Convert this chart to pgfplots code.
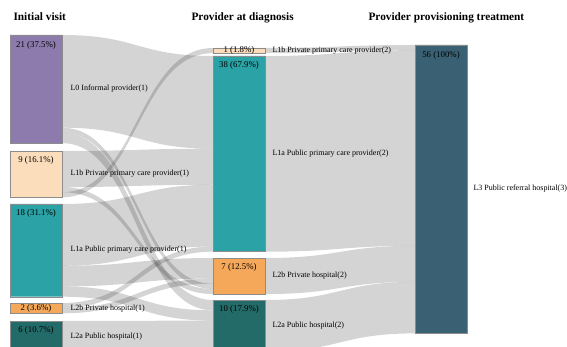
\documentclass[border=0pt]{standalone}
\usepackage{fontspec}
\setmainfont{Liberation Serif}
\usepackage{pgfplots}
\pgfplotsset{compat=1.18}
\definecolor{cPurple}{RGB}{142,123,174}
\definecolor{cPeach}{RGB}{252,221,187}
\definecolor{cTeal}{RGB}{43,163,166}
\definecolor{cOrange}{RGB}{246,168,90}
\definecolor{cDark}{RGB}{35,107,104}
\definecolor{cSlate}{RGB}{58,97,115}
\definecolor{cRib}{RGB}{40,40,40}
\definecolor{cTxt}{RGB}{30,30,30}
\tikzset{ribbon/.style={fill=cRib, fill opacity=0.2, draw=none}}
% ribbon: x0, x1, source top, target top, value (patients)
\newcommand{\ribbon}[5]{%
  \fill[ribbon] (axis cs:#1,#3) .. controls (axis cs:{(#1+#2)/2},#3) and (axis cs:{(#1+#2)/2},#4) .. (axis cs:#2,#4)
   -- (axis cs:#2,{#4+#5*5.15}) .. controls (axis cs:{(#1+#2)/2},{#4+#5*5.15}) and (axis cs:{(#1+#2)/2},{#3+#5*5.15}) .. (axis cs:#1,{#3+#5*5.15}) -- cycle;}
% node box: x0, x1, top, bottom, colour
\newcommand{\snode}[5]{%
  \addplot[fill=#5, draw=black!45, line width=0.4pt, mark=none] coordinates {(#1,#3) (#2,#3) (#2,#4) (#1,#4) (#1,#3)};}
\begin{document}
\begin{tikzpicture}
\begin{axis}[
  scale only axis, width=567pt, height=347pt,
  xmin=0, xmax=567, ymin=0, ymax=347, y dir=reverse,
  hide axis, clip=true,
  every node/.style={text=cTxt, inner sep=0pt},
]
% flows: initial visit -> provider at diagnosis
\ribbon{62}{213}{35}{56}{18}
\ribbon{62}{213}{127.7}{283.75}{1}
\ribbon{62}{213}{132.85}{300}{2}
\ribbon{62}{213}{151}{148.7}{7}
\ribbon{62}{213}{187.05}{288.9}{1}
\ribbon{62}{213}{192.2}{48}{1}
\ribbon{62}{213}{204}{184.75}{12}
\ribbon{62}{213}{265.8}{258}{4}
\ribbon{62}{213}{286.4}{310.3}{2}
\ribbon{62}{213}{303}{246.55}{1}
\ribbon{62}{213}{308.15}{278.6}{1}
\ribbon{62}{213}{321}{320.6}{6}
% flows: provider at diagnosis -> treatment
\ribbon{265}{415}{48}{45}{1}
\ribbon{265}{415}{56}{50.15}{38}
\ribbon{265}{415}{258}{245.85}{7}
\ribbon{265}{415}{300}{281.9}{10}
% nodes
\snode{10}{62}{35}{143.15}{cPurple}
\snode{10}{62}{151}{197.35}{cPeach}
\snode{10}{62}{204}{296.7}{cTeal}
\snode{10}{62}{303}{313.3}{cOrange}
\snode{10}{62}{321}{351.9}{cDark}
\snode{213}{265}{48}{53.15}{cPeach}
\snode{213}{265}{56}{251.7}{cTeal}
\snode{213}{265}{258}{294.05}{cOrange}
\snode{213}{265}{300}{351.5}{cDark}
\snode{415}{467}{45}{333.4}{cSlate}
% titles
\node[anchor=base west, font=\bfseries\fontsize{11.3}{13}\selectfont] at (axis cs:10,21) {Initial visit};
\node[anchor=base west, font=\bfseries\fontsize{11.3}{13}\selectfont] at (axis cs:188,21) {Provider at diagnosis};
\node[anchor=base west, font=\bfseries\fontsize{11.3}{13}\selectfont] at (axis cs:365,21) {Provider provisioning treatment};
% value labels
\begin{scope}[every node/.append style={font=\fontsize{8.8}{10}\selectfont}]
\node at (axis cs:36,45) {21 (37.5\%)};
\node at (axis cs:36,160) {9 (16.1\%)};
\node at (axis cs:36,213) {18 (31.1\%)};
\node at (axis cs:36,308.2) {2 (3.6\%)};
\node at (axis cs:36,330) {6 (10.7\%)};
\node at (axis cs:239,50.6) {1 (1.8\%)};
\node at (axis cs:239,65) {38 (67.9\%)};
\node at (axis cs:239,267) {7 (12.5\%)};
\node at (axis cs:239,309) {10 (17.9\%)};
\node at (axis cs:441,55) {56 (100\%)};
\end{scope}
% node names
\begin{scope}[every node/.append style={font=\fontsize{8}{9}\selectfont, anchor=west}]
\node at (axis cs:67,89) {L0 Informal provider(1)};
\node at (axis cs:67,174) {L1b Private primary care provider(1)};
\node at (axis cs:67,250) {L1a Public primary care provider(1)};
\node at (axis cs:67,308.2) {L2b Private hospital(1)};
\node at (axis cs:67,336.5) {L2a Public hospital(1)};
\node at (axis cs:269,50.6) {L1b Private primary care provider(2)};
\node at (axis cs:269,154) {L1a Public primary care provider(2)};
\node at (axis cs:269,276) {L2b Private hospital(2)};
\node at (axis cs:269,326) {L2a Public hospital(2)};
\node at (axis cs:470,189) {L3 Public referral hospital(3)};
\end{scope}
\end{axis}
\pgfresetboundingbox
\useasboundingbox (current axis.south west) rectangle (current axis.north east);
\end{tikzpicture}
\end{document}
